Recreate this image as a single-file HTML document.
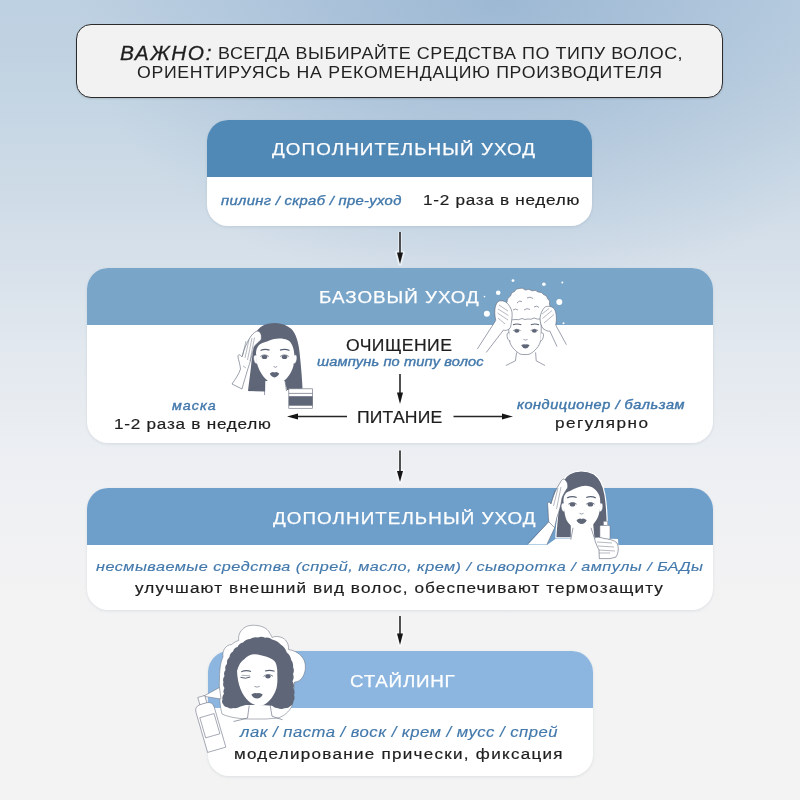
<!DOCTYPE html>
<html><head><meta charset="utf-8"><style>
*{margin:0;padding:0;box-sizing:border-box}
html,body{width:800px;height:800px;overflow:hidden}
body{position:relative;font-family:"Liberation Sans", sans-serif;background:radial-gradient(420px 300px at 500px 0px,rgba(140,172,205,.65),rgba(140,172,205,0)),linear-gradient(180deg,#bdd0e1 0px,#c4d5e3 100px,#cfdce7 200px,#d9e2eb 280px,#e3e9ef 360px,#ebeef2 440px,#f0f1f3 520px,#f3f3f3 620px,#f3f3f3 800px)}
.t{position:absolute;white-space:nowrap;will-change:transform}
.box{position:absolute;border-radius:21px;overflow:hidden;background:#fff;box-shadow:0 1px 3px rgba(60,80,110,.12)}
.hd{position:absolute;left:0;top:0;width:100%}
.arr{position:absolute}
</style></head><body>
<div style="position:absolute;left:76px;top:24px;width:647px;height:74px;border:1.6px solid #2b2b2b;border-radius:15px;background:#f2f2f2;box-shadow:0 1px 2px rgba(0,0,0,.12)"></div>
<div class="box" style="left:207px;top:120px;width:385px;height:106px"><div class="hd" style="height:57px;background:#5088b6"></div></div>
<div class="box" style="left:87px;top:268px;width:626px;height:175px"><div class="hd" style="height:57px;background:#79a5c9"></div></div>
<div class="box" style="left:87px;top:488px;width:626px;height:122px"><div class="hd" style="height:57px;background:#6e9fcb"></div></div>
<div class="box" style="left:208px;top:651px;width:385px;height:125px"><div class="hd" style="height:57px;background:#8cb6df"></div></div>
<svg class="arr" width="800" height="800" style="left:0;top:0;position:absolute" viewBox="0 0 800 800">
<g stroke="#fff" stroke-width="3.6" fill="#fff" opacity=".55" stroke-linejoin="round">
<line x1="400" y1="232" x2="400" y2="254"/><path d="M397 252.5 L403 252.5 L400 264 Z"/>
<line x1="400" y1="450.5" x2="400" y2="472"/><path d="M397 471 L403 471 L400 482 Z"/>
<line x1="400" y1="616" x2="400" y2="635"/><path d="M397 633.5 L403 633.5 L400 645 Z"/>
</g>
<g stroke="#262626" stroke-width="1.6" fill="#161616">
<line x1="400" y1="232" x2="400" y2="254"/><path d="M397 252.5 L403 252.5 L400 264 Z" stroke="none"/>
<line x1="400" y1="450.5" x2="400" y2="472"/><path d="M397 471 L403 471 L400 482 Z" stroke="none"/>
<line x1="400" y1="616" x2="400" y2="635"/><path d="M397 633.5 L403 633.5 L400 645 Z" stroke="none"/>
<line x1="400" y1="374" x2="400" y2="394"/><path d="M397 392.5 L403 392.5 L400 404 Z" stroke="none"/>
<line x1="296" y1="416.5" x2="347" y2="416.5" stroke-width="1.4"/><path d="M287 416.5 L298 413.5 L298 419.5 Z" stroke="none"/>
<line x1="453.5" y1="416.5" x2="504" y2="416.5" stroke-width="1.4"/><path d="M513 416.5 L502 413.5 L502 419.5 Z" stroke="none"/>
</g></svg>
<svg style="position:absolute;left:0;top:0" width="800" height="800" viewBox="0 0 800 800">
<defs><style>.h{fill:#5f6677}.o{fill:none;stroke:#596275;stroke-width:.6}.w{fill:#fff;stroke:#596275;stroke-width:.6}.wo{fill:#fff;stroke:#6b7283;stroke-width:.55}</style></defs>
<!-- ILLUSTRATION 1 -->
<g id="il1">
 <path class="h" d="M275 323 C265 323 258.5 327 256 333 C254 342 253 352 251.5 362 C250.5 372 249 382 248 391 L265 391.5 L265 381 L285 381 L287 390 L295 390.5 L302.5 388.5 C302 378 301 366 299.5 352 C298.5 342 296 334 291.5 329 C287 325 281 323 275 323 Z"/>
 <path fill="#fff" d="M256 354 C256 346 260 343 267 341.5 C274 338 282 337.5 288.5 340.5 C292 343 294 348 294.5 356 C294.5 366 292 372 287 378 C283 382.5 279 384 275.5 384 C271 384 267 381 263 376 C258 369 256 362 256 354 Z"/>
 <path class="w" d="M256.5 355 C253.5 354.5 253 357 254 361 C254.5 363 256 364 257 364"/>
 <path class="w" d="M294 355 C297 354 297.5 357 296.5 361 C296 363 294.5 364 293.5 364"/>
 <path class="o" d="M265 381 L264.5 395 M285 381 L286.5 391"/>
 <path class="o" style="stroke-width:1.3" d="M260.5 350.5 Q265 348.3 269.5 350.2 M280 350.2 Q285 348.3 289.5 350.5"/>
 <ellipse class="h" cx="264.5" cy="357" rx="2.8" ry="2"/>
 <ellipse class="h" cx="284.5" cy="357" rx="2.8" ry="2"/>
 <path class="o" style="stroke-width:.8" d="M260.3 356.5 Q264.5 353.3 268.8 356.5 M280.2 356.5 Q284.5 353.3 288.8 356.5"/>
 <path class="o" d="M273.5 366.5 Q275.3 368 277.2 366.5"/>
 <path class="h" d="M269.8 373.6 Q272 371.4 274.5 372.4 Q277 371.4 279.2 373.6 Q277.5 377.4 274.5 377.4 Q271.5 377.4 269.8 373.6 Z"/>
 <path class="w" d="M258 331 C261 332 262 336 261 340 C258.5 342 256 344 254 347 C252 355 250 363 247.5 370 C245.5 377 243.5 383 242 389 L232 384 C235.5 379 239 374 240.5 369 C240 364 238.5 360 238 357 C238 354 240 354 242 357 C243.5 350 247 342 251 336 C253.5 333 256 331 258 331 Z"/>
 <path class="o" style="stroke-width:.45" d="M246 341 L242.5 356 M249 339.5 L245 358 M252 338 L247.5 360 M254.5 337.5 L250 361 M243 366 L246 368"/>
 <path class="o" d="M249 391 Q256 386.5 263 386"/>
 <rect x="288.8" y="388.8" width="23.8" height="19.5" fill="#fff" stroke="#777c88" stroke-width=".7"/>
 <line x1="288.8" y1="393.4" x2="312.6" y2="393.4" stroke="#777c88" stroke-width=".8"/>
 <rect class="h" x="288.8" y="396.2" width="23.8" height="9.5"/>
</g>
<!-- ILLUSTRATION 2: foam -->
<g id="il2">
 <g fill="#fff">
  <circle cx="498.2" cy="292.8" r="2.3"/><circle cx="486.9" cy="313.8" r="3"/><circle cx="513" cy="280.6" r="1.4"/>
  <circle cx="543.9" cy="284.2" r="1.8"/><circle cx="559.3" cy="302" r="3"/><circle cx="562.3" cy="282.4" r="1"/>
  <circle cx="484.5" cy="296.6" r="0.8"/><circle cx="563.5" cy="323.3" r="1"/>
 </g>
 <!-- arms -->
 <path fill="#fff" d="M496 320 L477.4 349 L486.3 352.4 L503.5 330 Z"/>
 <path fill="#fff" d="M555.7 325 L566.4 344.7 L557 346.5 L549.8 331 Z"/>
 <path class="o" d="M495.8 320.4 L477.4 348.9 M503.5 330 L486.3 352.4 M555.7 325 L566.4 344.7 M549.8 331 L557 346.5"/>
 <!-- face -->
 <path class="w" d="M509.5 316 C508.5 324 508.5 334 509.5 341 C510.5 346 515 351 520 354 C522 354.8 528 354.8 530 354 C535 351 539.5 346 540.5 341 C541.5 334 541.5 324 540.5 316 Z"/>
 <path class="w" d="M509.3 333 C507 332 506.5 335 507.5 338 C508 340 509.5 341 510.5 341"/>
 <path class="w" d="M541.2 333 C543.5 332 544 335 543 338 C542.5 340 541 341 540 341"/>
 <path class="o" d="M516.6 352.4 L515.4 360.8 Q510 363.5 505.9 365.5 M535.6 352.4 L536.2 360.8 Q541 363.5 545 365.5"/>
 <!-- foam -->
 <path class="w" d="M506.0 316.0 Q503.4 313.2 505.0 309.0 Q503.8 305.6 507.0 302.0 Q506.7 298.3 510.5 296.0 Q510.8 292.4 514.5 291.5 Q515.8 288.2 519.5 288.5 Q521.9 287.1 525.5 290.0 Q529.0 288.2 532.0 290.8 Q536.1 289.5 538.0 292.0 Q542.4 291.8 543.5 294.5 Q547.5 295.6 547.5 298.5 Q550.7 300.9 549.5 304.0 Q551.2 307.2 548.5 310.0 Q549.3 313.8 546.0 316.0 Q544.7 318.9 540.0 319.0 Q537.9 319.7 534.0 318.0 Q531.4 319.9 528.0 319.0 Q524.8 320.2 522.0 318.5 Q518.3 320.3 516.0 319.5 Q511.9 320.3 510.0 319.0 Q506.7 318.3 506.0 316.0 Z"/>
 <path class="o" d="M517 303 Q519 300 522 301.5 M527 298 Q530 296 533 298.5 M534 307 Q537 305 539 307.5 M513 310 Q515.5 308 518 310 M524 310 Q527 307.5 530 309.5"/>
 <path fill="#fff" d="M495.8 320.4 C494 313 494.5 306 497.5 302 C500 300 504 300.5 507 303 C509 305 511 308 512 312 C512.5 317 511.5 322 510.6 327 C509 330 506 331 503.5 330 Z"/><path class="o" d="M495.8 320.4 C494 313 494.5 306 497.5 302 C500 300 504 300.5 507 303 C509 305 511 308 512 312 C512.5 317 511.5 322 510.6 327 C509 330 506 331 503.5 330"/>
 <path class="o" style="stroke-width:.45" d="M499 305 L508 311 M498 309 L508.5 315.5 M497.5 313 L508 320 M498 318 L505 324"/>
 <path fill="#fff" d="M555.7 325 C557 319 556.5 312 554 308.5 C551.5 306 547 305.5 544.5 307.5 C542 310 540.5 314 540 318 C540 322 541 326 543 328.5 C546 331 548.5 331.5 549.8 331 Z"/><path class="o" d="M555.7 325 C557 319 556.5 312 554 308.5 C551.5 306 547 305.5 544.5 307.5 C542 310 540.5 314 540 318 C540 322 541 326 543 328.5 C546 331 548.5 331.5 549.8 331"/>
 <path class="o" style="stroke-width:.45" d="M549 308.5 L542 314 M552 310.5 L542.5 318.5 M554 314.5 L544 323"/>
 <path class="o" style="stroke-width:1.1" d="M513 324.7 Q517 323.3 521.3 324.7 M530.8 324.7 Q535 323.3 539 324.7"/>
 <ellipse class="h" cx="516.8" cy="331" rx="2.5" ry="1.8"/>
 <ellipse class="h" cx="534.4" cy="331" rx="2.5" ry="1.8"/>
 <path class="o" style="stroke-width:.7" d="M513 330.6 Q516.8 327.8 520.6 330.6 M530.6 330.6 Q534.4 327.8 538.2 330.6"/>
 <path class="o" d="M523.5 339.4 Q525.5 340.8 527.5 339.4"/>
 <path class="h" d="M521.2 345.3 Q523.2 343.6 525.4 344.4 Q527.6 343.6 529.6 345.3 Q528 348.5 525.4 348.5 Q522.8 348.5 521.2 345.3 Z"/>
</g>
<!-- ILLUSTRATION 3 -->
<g id="il3">
 <!-- arm + body white -->
 <path fill="#fff" d="M528 544.5 L548.8 521.8 L555 526 L554.7 527.8 L547 544.5 Z"/>
  <path class="h" stroke="#fff" stroke-width="1.2" d="M581.4 471 C573 471 566 474.5 562.4 482 C559.5 490 559 500 558 512 C557 522 556 530 555.9 537.5 L607 538 C607.5 525 607 508 605 495 C603.5 486 600 478 594 474 C590 472 586 471 581.4 471 Z"/>
 <path fill="#fff" d="M563.5 502 C563 495 566 492 570 491 C575 488.5 580 486 585.5 485.8 C592 486 597 489.5 599.5 496 C601 502 600.5 512 597.5 518 C594 525 588 530 581.4 530.3 C575 530 570 526 566.5 520 C564.5 515 563.7 508 563.5 502 Z"/>
 <path fill="#fff" d="M570.8 522 L593 522 L594.5 538.4 L600 538.4 L618 539 L618.3 545 L547 545 L556 538.4 L570.8 538.4 Z"/>
 <path class="w" d="M563.8 503 C561 502.5 560.7 505.5 561.5 509 C562 511 563.5 512 564.5 512"/>
 <path class="w" d="M600.2 503 C603 502.5 603.3 505.5 602.5 509 C602 511 600.5 512 599.5 512"/>
 <path class="o" d="M573 527.8 L570.8 539.6 M591 527.8 L594.5 538.4"/>
 <path class="o" style="stroke-width:1.3" d="M567.2 497.8 Q572 495.6 576.7 497.5 M586.2 497.5 Q591 495.6 595.7 497.8"/>
 <ellipse class="h" cx="572.5" cy="504.6" rx="2.8" ry="2"/>
 <ellipse class="h" cx="590.4" cy="504.6" rx="2.8" ry="2"/>
 <path class="o" style="stroke-width:.8" d="M568.3 504.2 Q572.5 500.8 576.7 504.2 M586.2 504.2 Q590.4 500.8 594.6 504.2"/>
 <path class="o" d="M579.5 513.3 Q581.5 514.8 583.5 513.3"/>
 <path class="h" d="M576.5 520.2 Q579 517.9 581.6 518.9 Q584.2 517.9 586.7 520.2 Q584.8 524 581.6 524 Q578.4 524 576.5 520.2 Z"/>
 <!-- hand on head -->
 <path class="w" d="M563.5 479 C566.5 480 568.5 484 567.5 488 C565.5 491 563.5 494 562 498 C561 505 559 512 557 517 C556 521 555.5 524 554.7 527.8 L548.8 521.8 C548 515 548.2 509 547.6 504 C547.5 501.5 549.5 501.5 551 504 C553 496 556.5 488 560 483 C561 481 562 479.5 563.5 479 Z"/>
 <path class="o" style="stroke-width:.45" d="M555 490 L551 503 M558 488 L553.5 506 M561 487 L556.5 509"/>
 <path class="o" d="M548.8 521.8 L528 543.5 M554.7 527.8 L547 544.4"/>
 <!-- bottle + hand -->
 <rect x="603.4" y="521.2" width="4.2" height="4.5" fill="#fff" stroke="#6b7283" stroke-width=".5"/>
 <rect x="599.9" y="525.4" width="10.1" height="14" rx="1" fill="#fff" stroke="#6b7283" stroke-width=".5"/>
 <path class="w" d="M594.5 538 C596 537 600 537 604 538.5 C609 539 614 540 617 543 C619 547 618.5 553 616 557 L610 558.6 L599.3 558.6 L599 550 C597 546 595 542 594.5 538 Z"/>
 <path class="o" style="stroke-width:.45" d="M597 542 L612 543 M598 546 L614 547 M599 550 L615 551 M599.3 553 L610 553"/>
</g>
<!-- ILLUSTRATION 4 -->
<g id="il4">
 <path class="wo" d="M222 714 C219.5 705 219 690 219.5 678 C219.5 668 221 661 223 657 C222 650 226 645 231.5 644.5 C234 642.5 236.5 641 238.7 640.5 C237.5 633 243 626.5 250 625.5 C257 624.5 265 626.5 268.5 631 C270 633.5 271.5 636 272 637.5 C276 635.5 282 636.5 285.5 640 C288 643 289 646.5 288.5 649.5 C295 650.5 301 654 304 660 C306.5 666 305.5 673 302 678 C299.5 681 297 682 294.5 682 L292 706 C289 712 284 716 278 718 L266 719 L246 719 C238 718.5 228 717 222 714 Z"/>
 <path class="h" d="M258.0 637.5 Q261.7 635.9 265.0 637.8 Q269.0 636.9 272.0 639.5 Q277.2 640.4 280.7 644.5 Q285.0 647.2 286.8 652.5 Q290.5 655.3 291.2 660.0 Q293.8 662.9 293.0 667.0 Q294.8 670.3 293.0 674.0 Q294.5 677.7 292.5 681.2 Q294.7 685.1 293.5 688.0 Q295.4 692.3 294.0 695.0 Q295.3 699.0 293.5 701.0 Q293.4 704.7 290.5 706.0 Q288.6 708.5 284.2 708.3 Q281.7 709.6 277.2 708.0 Q275.4 708.4 272.0 705.7 Q265.0 705.4 258.0 705.0 Q251.8 705.0 245.7 705.0 Q243.1 705.8 240.5 706.5 Q236.3 708.8 234.0 708.0 Q229.9 709.1 228.0 707.5 Q224.2 707.0 223.0 704.0 Q221.3 702.6 222.5 699.0 Q221.7 697.2 224.0 693.5 Q222.6 691.5 224.5 688.0 Q222.3 685.5 223.5 682.0 Q222.2 679.2 224.5 676.0 Q223.2 672.9 225.5 670.0 Q224.5 666.4 227.0 663.7 Q226.6 659.6 229.5 657.0 Q229.8 653.1 233.0 651.5 Q234.1 647.9 237.5 647.0 Q239.3 643.2 243.0 642.5 Q245.9 639.0 250.0 639.0 Q253.8 636.5 258.0 637.5 Z"/>
 <path fill="#fff" d="M237 671 C238.5 665 241 661 244.5 659 C247 656 251 654.3 254.5 654.2 C259 654.5 263 655.5 266.7 656.8 C271 658.5 274 660 275.5 662.5 C277 666 277.5 670 277.3 674 C277.5 680 277.5 684 276.5 688 C275 693 272.5 697.5 269 701 C266 704 263 705.7 259.7 705.8 C256 705.6 252 704 249 701.5 C245.5 698.5 242.5 694 240.5 689 C238.5 684 237.3 678 237 671 Z"/>
 <path class="o" d="M249.2 705.5 L247.5 718 Q240 720 233.5 721.5 M270.2 705.5 L272 716.2 Q277 718 282.5 719.7"/>
 <path class="o" style="stroke-width:1.2" d="M241.3 671.8 Q246 669.8 251 671.5 M265 671 Q269.5 669.5 274.6 671.2"/>
 <path class="o" style="stroke-width:1" d="M240.5 677.3 Q245.5 679.3 250.3 677"/>
 <path class="o" style="stroke-width:.5" d="M241.5 675.3 L250 675.8"/>
 <ellipse class="h" cx="268" cy="676.6" rx="2.7" ry="2"/>
 <path class="o" style="stroke-width:.8" d="M263.5 676.4 Q268 672.8 273 676.2"/>
 <path class="o" d="M254.3 686.3 Q257 688 259.8 686.3"/>
 <path class="h" d="M251.3 694.4 Q254 692.2 257 693.2 Q260 692.2 262.8 694.4 Q260.8 698.5 257 698.5 Q253.2 698.5 251.3 694.4 Z"/>
 <!-- spray -->
 <path class="wo" d="M203.5 696.2 L219.5 687.5 L221 699 Z"/>
 <g transform="translate(204.6 708) rotate(-16.2)">
  <rect x="-3.6" y="-12" width="7.2" height="8" fill="#fff" stroke="#6b7283" stroke-width=".55"/>
  <path d="M-9.5 2 Q-9.5 -4 -3.5 -4.5 L3.5 -4.5 Q9.5 -4 9.5 2 L9.5 43.5 L-9.5 43.5 Z" fill="#fff" stroke="#6b7283" stroke-width=".55"/>
  <rect x="-7.3" y="8" width="14.8" height="21" fill="none" stroke="#6b7283" stroke-width=".55"/>
 </g>
</g>
</g>
</svg>

<div class="t" id="imp" style="left:119.60px;top:43.51px;font-size:19.3px;line-height:19.3px;font-style:italic;color:#1e1e1e;letter-spacing:1.537px;transform:scaleX(1.0800);transform-origin:0 0;-webkit-text-stroke:0.3px #1e1e1e;">ВАЖНО:</div><div class="t" id="l1" style="left:217.80px;top:46.31px;font-size:16.0px;line-height:16.0px;color:#222;letter-spacing:0.474px;transform:scaleX(1.1200);transform-origin:0 0;">ВСЕГДА ВЫБИРАЙТЕ СРЕДСТВА ПО ТИПУ ВОЛОС,</div><div class="t" id="l2" style="left:137.00px;top:64.60px;font-size:15.8px;line-height:15.8px;color:#222;letter-spacing:0.610px;transform:scaleX(1.1200);transform-origin:0 0;">ОРИЕНТИРУЯСЬ НА РЕКОМЕНДАЦИЮ ПРОИЗВОДИТЕЛЯ</div><div class="t" id="h2" style="left:271.80px;top:142.40px;font-size:16.8px;line-height:16.8px;color:#ffffff;letter-spacing:0.992px;transform:scaleX(1.1200);transform-origin:0 0;-webkit-text-stroke:0.25px #ffffff;">ДОПОЛНИТЕЛЬНЫЙ УХОД</div><div class="t" id="b2a" style="left:220.80px;top:194.70px;font-size:12.3px;line-height:12.3px;font-style:italic;color:#4278ab;letter-spacing:0.278px;transform:scaleX(1.2000);transform-origin:0 0;-webkit-text-stroke:0.35px #4278ab;">пилинг / скраб / пре-уход</div><div class="t" id="b2b" style="left:423.20px;top:191.60px;font-size:15.3px;line-height:15.3px;color:#1e1e1e;letter-spacing:0.642px;transform:scaleX(1.1200);transform-origin:0 0;-webkit-text-stroke:0.2px #1e1e1e;">1-2 раза в неделю</div><div class="t" id="h3" style="left:319.40px;top:290.11px;font-size:16.8px;line-height:16.8px;color:#ffffff;letter-spacing:0.901px;transform:scaleX(1.1200);transform-origin:0 0;-webkit-text-stroke:0.25px #ffffff;">БАЗОВЫЙ УХОД</div><div class="t" id="och" style="left:346.00px;top:337.72px;font-size:15.7px;line-height:15.7px;color:#1e1e1e;letter-spacing:0.383px;transform:scaleX(1.1200);transform-origin:0 0;-webkit-text-stroke:0.2px #1e1e1e;">ОЧИЩЕНИЕ</div><div class="t" id="sham" style="left:317.00px;top:356.00px;font-size:12.2px;line-height:12.2px;font-style:italic;color:#4278ab;letter-spacing:0.100px;transform:scaleX(1.2000);transform-origin:0 0;-webkit-text-stroke:0.35px #4278ab;">шампунь по типу волос</div><div class="t" id="pit" style="left:357.00px;top:409.72px;font-size:15.7px;line-height:15.7px;color:#1e1e1e;letter-spacing:0.149px;transform:scaleX(1.1200);transform-origin:0 0;-webkit-text-stroke:0.2px #1e1e1e;">ПИТАНИЕ</div><div class="t" id="mask" style="left:172.00px;top:400.91px;font-size:11.9px;line-height:11.9px;font-style:italic;color:#4278ab;letter-spacing:0.875px;transform:scaleX(1.2000);transform-origin:0 0;-webkit-text-stroke:0.35px #4278ab;">маска</div><div class="t" id="r1" style="left:113.60px;top:415.75px;font-size:15.3px;line-height:15.3px;color:#1e1e1e;letter-spacing:0.675px;transform:scaleX(1.1200);transform-origin:0 0;-webkit-text-stroke:0.2px #1e1e1e;">1-2 раза в неделю</div><div class="t" id="kond" style="left:517.20px;top:398.91px;font-size:12.1px;line-height:12.1px;font-style:italic;color:#4278ab;letter-spacing:0.471px;transform:scaleX(1.2000);transform-origin:0 0;-webkit-text-stroke:0.4px #4278ab;">кондиционер / бальзам</div><div class="t" id="reg" style="left:554.60px;top:414.50px;font-size:15.3px;line-height:15.3px;color:#1e1e1e;letter-spacing:1.306px;transform:scaleX(1.1200);transform-origin:0 0;-webkit-text-stroke:0.2px #1e1e1e;">регулярно</div><div class="t" id="h4" style="left:273.40px;top:510.80px;font-size:16.8px;line-height:16.8px;color:#ffffff;letter-spacing:0.967px;transform:scaleX(1.1200);transform-origin:0 0;-webkit-text-stroke:0.25px #ffffff;">ДОПОЛНИТЕЛЬНЫЙ УХОД</div><div class="t" id="nes" style="left:96.20px;top:559.82px;font-size:13.5px;line-height:13.5px;font-style:italic;color:#4278ab;letter-spacing:0.412px;transform:scaleX(1.2000);transform-origin:0 0;-webkit-text-stroke:0.15px #4278ab;">несмываемые средства (спрей, масло, крем) / сыворотка / ампулы / БАДы</div><div class="t" id="ulu" style="left:134.80px;top:580.00px;font-size:15.3px;line-height:15.3px;color:#1e1e1e;letter-spacing:0.987px;transform:scaleX(1.1200);transform-origin:0 0;-webkit-text-stroke:0.2px #1e1e1e;">улучшают внешний вид волос, обеспечивают термозащиту</div><div class="t" id="h5" style="left:350.40px;top:674.21px;font-size:16.8px;line-height:16.8px;color:#ffffff;letter-spacing:0.676px;transform:scaleX(1.1200);transform-origin:0 0;-webkit-text-stroke:0.25px #ffffff;">СТАЙЛИНГ</div><div class="t" id="lak" style="left:240.20px;top:725.60px;font-size:13.9px;line-height:13.9px;font-style:italic;color:#4278ab;letter-spacing:0.400px;transform:scaleX(1.2000);transform-origin:0 0;-webkit-text-stroke:0.15px #4278ab;">лак / паста / воск / крем / мусс / спрей</div><div class="t" id="mod" style="left:234.40px;top:745.61px;font-size:15.2px;line-height:15.2px;color:#1e1e1e;letter-spacing:1.158px;transform:scaleX(1.1200);transform-origin:0 0;-webkit-text-stroke:0.2px #1e1e1e;">моделирование прически, фиксация</div>
</body></html>
